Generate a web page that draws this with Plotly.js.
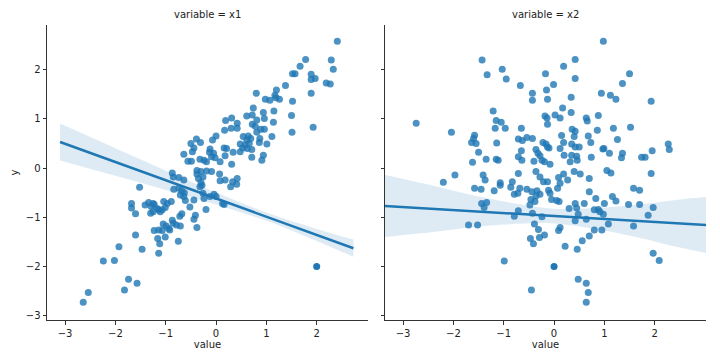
<!DOCTYPE html>
<html><head><meta charset="utf-8">
<script src="https://cdn.plot.ly/plotly-3.0.1.min.js"></script>
<style>html,body{margin:0;padding:0;background:#fff}#chart{width:720px;height:360px}</style>
</head><body><div id="chart"></div>
<script>
// ---- Panel "variable = x1" scatter points ----
const x1 = [-0.39,-0.50,-0.31,-0.44,-0.47,-0.64,-0.56,-0.49,-0.32,-0.24,-0.87,-0.38,
2.41,1.78,2.29,1.67,2.33,1.52,1.57,1.89,1.97,1.89,2.19,2.27,1.38,1.20,1.89,0.80,1.17,1.19,1.26,0.98,1.07,1.52,0.74,0.94,0.96,1.15,0.61,0.72,1.50,0.81,0.31,0.19,1.14,0.42,0.72,0.78,0.30,0.17,0.42,0.89,0.96,1.93,1.51,0.81,1.11,0.54,0.64,0.69,0.61,0.00,-0.07,0.87,0.86,1.01,0.48,0.58,0.66,0.53,0.62,0.71,0.21,0.16,-0.12,-0.13,-0.05,-0.09,-0.02,0.34,0.48,0.94,0.91,0.71,0.18,0.08,-0.19,0.31,-0.19,-0.09,0.07,-0.30,
0.08,0.18,0.33,0.42,0.41,0.29,-0.26,-0.28,-0.26,-0.24,-0.12,-0.04,0.00,0.13,0.16,-0.20,
-0.85,-0.74,-0.64,-0.38,-0.35,-0.30,-0.84,-0.74,-0.68,-0.63,-0.71,-0.64,-0.61,-0.44,-0.32,-0.52,-1.52,-1.68,-1.68,-1.60,-1.41,-1.34,-1.25,-1.29,-1.23,-1.17,-1.25,-1.30,-1.07,-1.01,-1.04,-0.97,-0.89,-1.11,-1.14,-0.72,-0.68,-0.44,-0.41,-1.05,-0.99,-0.94,-0.85,-0.87,-0.79,-0.71,-1.23,-1.14,-1.07,-0.92,-0.38,-1.16,-1.01,-1.12,-0.75,-1.60,-1.93,-1.47,-1.14,-2.24,-2.02,-1.74,-1.57,-1.82,-2.54,-2.64];
const y1 = [0.59,0.50,0.52,0.41,0.33,0.28,0.14,0.14,0.18,0.16,-0.10,-0.05,
2.58,2.21,2.20,2.07,2.01,1.92,1.92,1.91,1.82,1.80,1.73,1.71,1.68,1.59,1.52,1.52,1.48,1.43,1.40,1.40,1.38,1.36,1.22,1.13,1.01,1.16,1.06,1.08,1.07,0.98,1.02,0.97,0.93,0.91,0.89,0.85,0.81,0.77,0.81,0.79,0.79,0.83,0.73,0.73,0.64,0.64,0.65,0.60,0.57,0.65,0.57,0.60,0.52,0.49,0.49,0.47,0.50,0.41,0.40,0.38,0.40,0.41,0.39,0.32,0.30,0.23,0.21,0.32,0.33,0.26,0.16,0.22,0.25,0.13,0.13,0.08,-0.06,-0.07,-0.12,-0.07,
-0.26,-0.24,-0.28,-0.21,-0.33,-0.38,-0.18,-0.35,-0.51,-0.62,-0.58,-0.53,-0.58,-0.72,-0.74,-0.84,
-0.18,-0.19,-0.24,-0.12,-0.21,-0.30,-0.43,-0.41,-0.46,-0.50,-0.55,-0.58,-0.66,-0.65,-0.38,-0.79,-0.39,-0.72,-0.81,-0.93,-0.75,-0.70,-0.72,-0.78,-0.74,-0.82,-0.89,-0.92,-0.85,-0.80,-0.68,-0.72,-0.68,-0.89,-0.85,-0.98,-0.93,-1.04,-0.96,-1.14,-1.18,-1.23,-1.12,-1.06,-1.16,-1.18,-1.27,-1.26,-1.27,-1.26,-1.21,-1.43,-1.40,-1.54,-1.49,-1.36,-1.60,-1.65,-1.73,-1.89,-1.88,-2.26,-2.34,-2.48,-2.53,-2.73];

// ---- Panel "variable = x2" scatter points ----
const x2 = [-1.43,-1.03,-1.33,-0.95,-0.17,-0.67,-0.43,-0.43,-0.15,-0.13,-1.21,-1.15,-1.05,-1.17,-0.97,-2.74,-2.04,-1.58,-1.60,-1.64,-1.55,-0.65,-0.18,-0.14,-0.13,-0.71,-0.63,-0.54,-0.43,-1.14,-0.22,-0.16,-0.13,-0.36,-0.32,-0.28,-0.65,-0.71,-0.64,-1.50,-1.62,-1.35,-1.15,-1.11,-0.40,-0.24,-0.19,-1.97,-1.41,-0.71,-0.36,
-2.20,-1.37,-1.58,-1.45,-1.19,-1.07,-1.07,-0.83,-0.86,-0.68,-0.79,-0.72,-0.54,-0.44,-0.34,-0.28,-0.36,-0.46,-0.38,-0.48,-0.28,-0.21,-0.13,-0.11,-1.44,-1.34,-1.39,-0.71,-0.79,-0.43,-0.24,-1.70,-1.52,-0.39,-0.31,-0.19,-0.29,-0.47,-0.41,-0.99,-0.45,
0.98,0.42,0.19,1.50,0.42,1.36,-0.01,0.94,1.12,1.23,0.34,1.93,0.17,0.34,0.02,0.12,0.64,0.66,0.88,1.52,1.18,0.36,0.42,0.86,0.15,0.40,0.68,1.26,0.73,0.19,0.35,0.42,0.50,-0.10,0.12,2.27,2.29,0.97,0.99,1.10,1.36,1.34,1.95,1.74,1.81,0.20,0.35,0.45,0.46,0.32,0.74,-0.08,0.40,0.52,0.19,1.05,1.13,1.93,
0.70,0.09,0.27,0.12,0.07,-0.08,-0.05,0.05,0.10,0.70,0.83,1.00,1.16,1.23,1.48,1.58,1.70,1.70,0.30,0.42,0.45,0.48,0.42,0.60,0.64,0.80,0.88,0.91,0.98,1.08,1.58,1.87,1.97,0.12,0.09,0.80,0.95,0.70,0.56,0.46,0.22,1.97,2.09,0.48,0.64,0.68,0.64];
const y2 = [2.20,2.01,1.90,1.81,1.92,1.68,1.52,1.38,1.59,1.40,1.16,0.97,0.93,0.81,0.81,0.91,0.73,0.67,0.60,0.52,0.50,0.81,1.06,1.02,0.89,0.59,0.56,0.62,0.60,0.51,0.52,0.49,0.43,0.38,0.30,0.25,0.35,0.23,0.16,0.32,0.12,0.18,0.18,0.16,0.14,0.16,0.13,-0.14,-0.14,-0.11,-0.07,
-0.29,-0.24,-0.41,-0.43,-0.46,-0.30,-0.35,-0.28,-0.39,-0.41,-0.53,-0.51,-0.43,-0.48,-0.46,-0.53,-0.57,-0.64,-0.68,-0.75,-0.18,-0.28,-0.28,-0.45,-0.72,-0.70,-0.80,-0.87,-0.98,-0.92,-0.99,-1.16,-1.16,-1.14,-1.25,-1.36,-1.41,-1.43,-1.54,-1.89,-2.48,
2.58,2.21,2.07,1.92,1.82,1.72,1.70,1.52,1.48,1.40,1.44,1.36,1.22,1.13,1.08,1.02,1.02,0.96,1.07,0.83,0.81,0.79,0.75,0.77,0.66,0.64,0.65,0.58,0.52,0.52,0.49,0.43,0.43,0.41,0.40,0.49,0.38,0.39,0.40,0.30,0.30,0.21,0.35,0.22,0.22,0.26,0.26,0.24,0.16,0.13,0.22,0.08,-0.07,-0.12,-0.12,-0.05,-0.10,-0.11,
-0.21,-0.19,-0.24,-0.31,-0.41,-0.51,-0.64,-0.66,-0.68,-0.48,-0.62,-0.72,-0.58,-0.67,-0.74,-0.41,-0.45,-0.74,-0.82,-0.72,-0.81,-0.94,-1.07,-0.72,-1.04,-0.85,-0.84,-0.89,-0.94,-1.14,-1.18,-0.96,-0.80,-1.21,-1.27,-1.26,-1.26,-1.38,-1.48,-1.65,-1.59,-1.73,-1.88,-2.26,-2.34,-2.53,-2.73];

// ---- Stacked outlier points (many identical rows) ----
const out1_x = [2.0], out1_y = [-2.0];
const out2_x = [0.0], out2_y = [-2.0];

// ---- Regression fit and 95% CI band ----
const fit1_x  = [-3.10, -2.00, -1.00, 0.00, 1.00, 2.00, 2.73];
const fit1_y  = [0.530, 0.122, -0.248, -0.619, -0.989, -1.360, -1.630];
const fit1_lo = [0.155, -0.158, -0.444, -0.741, -1.072, -1.482, -1.805];
const fit1_hi = [0.905, 0.402, -0.052, -0.497, -0.906, -1.238, -1.455];

const fit2_x  = [-3.36, -2.50, -2.00, -1.00, 0.00, 1.00, 2.00, 2.50, 3.02];
const fit2_y  = [-0.770, -0.823, -0.853, -0.914, -0.975, -1.036, -1.097, -1.128, -1.159];
const fit2_lo = [-1.400, -1.311, -1.247, -1.150, -1.125, -1.272, -1.491, -1.617, -1.729];
const fit2_hi = [-0.140, -0.335, -0.459, -0.678, -0.825, -0.800, -0.703, -0.639, -0.589];

const panelTitles = ['variable = x1', 'variable = x2'];
const yTicks = [-3, -2, -1, 0, 1, 2];
const xTicks = [-3, -2, -1, 0, 1, 2];

const blue = '#1f77b4';
const band = 'rgba(31,119,180,0.15)';

function panel(xs, ys, ox, oy, fx, fy, flo, fhi, xa, ya) {
  return [
    {x: fx, y: flo, xaxis: xa, yaxis: ya, mode: 'lines', line: {width: 0, shape: 'spline'}, hoverinfo: 'skip', showlegend: false},
    {x: fx, y: fhi, xaxis: xa, yaxis: ya, mode: 'lines', fill: 'tonexty', fillcolor: band, line: {width: 0, shape: 'spline'}, hoverinfo: 'skip', showlegend: false},
    {x: xs, y: ys, xaxis: xa, yaxis: ya, mode: 'markers', type: 'scatter', marker: {color: blue, size: 7, opacity: 0.8}, showlegend: false},
    {x: ox, y: oy, xaxis: xa, yaxis: ya, mode: 'markers', type: 'scatter', marker: {color: blue, size: 7, opacity: 1}, showlegend: false},
    {x: fx, y: fy, xaxis: xa, yaxis: ya, mode: 'lines', line: {color: blue, width: 2.5}, showlegend: false}
  ];
}

const data = [].concat(
  panel(x1, y1, out1_x, out1_y, fit1_x, fit1_y, fit1_lo, fit1_hi, 'x', 'y'),
  panel(x2, y2, out2_x, out2_y, fit2_x, fit2_y, fit2_lo, fit2_hi, 'x2', 'y2')
);

const font = {family: 'DejaVu Sans', size: 10, color: '#222'};
const axBase = {
  showgrid: false, zeroline: false, showline: true, linecolor: '#333', linewidth: 1,
  ticks: 'outside', ticklen: 3.5, tickwidth: 1, tickcolor: '#333', mirror: false,
  tickfont: font
};
const xr = [-3.36, 3.02], yr = [-3.09, 2.91];
const W = 659;
const fmt = v => v < 0 ? '\u2212' + Math.abs(v) : String(v);
const layout = {
  width: 720, height: 360,
  margin: {l: 47, r: 14, t: 25, b: 40},
  paper_bgcolor: '#fff', plot_bgcolor: '#fff',
  font: font,
  showlegend: false,
  xaxis: Object.assign({}, axBase, {domain: [0, 321 / W], range: xr, tickvals: xTicks, ticktext: xTicks.map(fmt), title: {text: 'value', font: font, standoff: 1}}),
  xaxis2: Object.assign({}, axBase, {domain: [338 / W, 1], range: xr, tickvals: xTicks, ticktext: xTicks.map(fmt), title: {text: 'value', font: font, standoff: 1}, anchor: 'y2'}),
  yaxis: Object.assign({}, axBase, {domain: [0, 1], range: yr, tickvals: yTicks, ticktext: yTicks.map(fmt), title: {text: 'y', font: font, standoff: 5}}),
  yaxis2: Object.assign({}, axBase, {domain: [0, 1], range: yr, tickvals: yTicks, showticklabels: false, anchor: 'x2'}),
  annotations: [
    {text: panelTitles[0], xref: 'x domain', yref: 'paper', x: 0.5, y: 1, yshift: 3, yanchor: 'bottom', showarrow: false, font: font},
    {text: panelTitles[1], xref: 'x2 domain', yref: 'paper', x: 0.5, y: 1, yshift: 3, yanchor: 'bottom', showarrow: false, font: font}
  ]
};
Plotly.newPlot('chart', data, layout, {staticPlot: true, displayModeBar: false});
</script>
</body></html>
